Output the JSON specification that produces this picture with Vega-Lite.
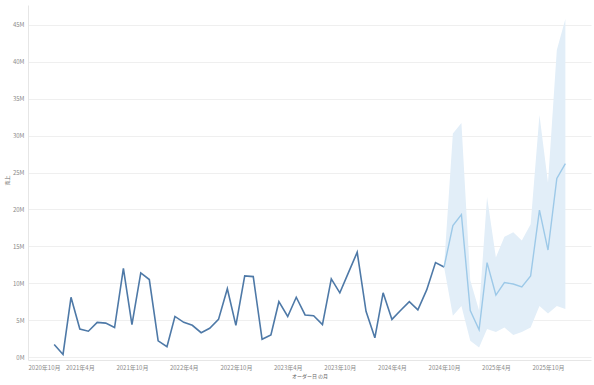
{
  "$schema": "https://vega.github.io/schema/vega-lite/v6.json",
  "width": 563,
  "height": 355,
  "autosize": {"type": "none"},
  "padding": {"left": 28, "top": 5, "right": 3, "bottom": 25},
  "background": "white",
  "config": {
    "view": {"stroke": null},
    "font": "Noto Sans CJK JP",
    "axis": {
      "labelFont": "Noto Sans CJK JP",
      "titleFont": "Noto Sans CJK JP",
      "labelColor": "#8a8a8a",
      "titleColor": "#666666",
      "labelFontSize": 6,
      "titleFontSize": 5,
      "titleFontWeight": "normal",
      "domainColor": "#e6e6e6",
      "gridColor": "#efefef",
      "ticks": false,
      "labelOverlap": false
    }
  },
  "data": {
    "values": [
      {"月": "2021-01-01", "種類": "実績", "売上": 1700000},
      {"月": "2021-02-01", "種類": "実績", "売上": 350000},
      {"月": "2021-03-01", "種類": "実績", "売上": 8100000},
      {"月": "2021-04-01", "種類": "実績", "売上": 3800000},
      {"月": "2021-05-01", "種類": "実績", "売上": 3500000},
      {"月": "2021-06-01", "種類": "実績", "売上": 4700000},
      {"月": "2021-07-01", "種類": "実績", "売上": 4600000},
      {"月": "2021-08-01", "種類": "実績", "売上": 4000000},
      {"月": "2021-09-01", "種類": "実績", "売上": 12000000},
      {"月": "2021-10-01", "種類": "実績", "売上": 4400000},
      {"月": "2021-11-01", "種類": "実績", "売上": 11400000},
      {"月": "2021-12-01", "種類": "実績", "売上": 10500000},
      {"月": "2022-01-01", "種類": "実績", "売上": 2200000},
      {"月": "2022-02-01", "種類": "実績", "売上": 1400000},
      {"月": "2022-03-01", "種類": "実績", "売上": 5500000},
      {"月": "2022-04-01", "種類": "実績", "売上": 4700000},
      {"月": "2022-05-01", "種類": "実績", "売上": 4300000},
      {"月": "2022-06-01", "種類": "実績", "売上": 3300000},
      {"月": "2022-07-01", "種類": "実績", "売上": 3900000},
      {"月": "2022-08-01", "種類": "実績", "売上": 5100000},
      {"月": "2022-09-01", "種類": "実績", "売上": 9250000},
      {"月": "2022-10-01", "種類": "実績", "売上": 4300000},
      {"月": "2022-11-01", "種類": "実績", "売上": 11000000},
      {"月": "2022-12-01", "種類": "実績", "売上": 10900000},
      {"月": "2023-01-01", "種類": "実績", "売上": 2400000},
      {"月": "2023-02-01", "種類": "実績", "売上": 3000000},
      {"月": "2023-03-01", "種類": "実績", "売上": 7500000},
      {"月": "2023-04-01", "種類": "実績", "売上": 5500000},
      {"月": "2023-05-01", "種類": "実績", "売上": 8100000},
      {"月": "2023-06-01", "種類": "実績", "売上": 5700000},
      {"月": "2023-07-01", "種類": "実績", "売上": 5600000},
      {"月": "2023-08-01", "種類": "実績", "売上": 4400000},
      {"月": "2023-09-01", "種類": "実績", "売上": 10600000},
      {"月": "2023-10-01", "種類": "実績", "売上": 8700000},
      {"月": "2023-11-01", "種類": "実績", "売上": 11500000},
      {"月": "2023-12-01", "種類": "実績", "売上": 14200000},
      {"月": "2024-01-01", "種類": "実績", "売上": 6200000},
      {"月": "2024-02-01", "種類": "実績", "売上": 2600000},
      {"月": "2024-03-01", "種類": "実績", "売上": 8700000},
      {"月": "2024-04-01", "種類": "実績", "売上": 5100000},
      {"月": "2024-05-01", "種類": "実績", "売上": 6300000},
      {"月": "2024-06-01", "種類": "実績", "売上": 7500000},
      {"月": "2024-07-01", "種類": "実績", "売上": 6400000},
      {"月": "2024-08-01", "種類": "実績", "売上": 9100000},
      {"月": "2024-09-01", "種類": "実績", "売上": 12800000},
      {"月": "2024-10-01", "種類": "実績", "売上": 12200000},
      {"月": "2024-10-01", "種類": "予測", "売上": 12200000, "下限": 12200000, "上限": 12200000},
      {"月": "2024-11-01", "種類": "予測", "売上": 17800000, "下限": 5600000, "上限": 30300000},
      {"月": "2024-12-01", "種類": "予測", "売上": 19300000, "下限": 6900000, "上限": 31700000},
      {"月": "2025-01-01", "種類": "予測", "売上": 6300000, "下限": 2200000, "上限": 10400000},
      {"月": "2025-02-01", "種類": "予測", "売上": 3700000, "下限": 1300000, "上限": 6300000},
      {"月": "2025-03-01", "種類": "予測", "売上": 12800000, "下限": 3800000, "上限": 21700000},
      {"月": "2025-04-01", "種類": "予測", "売上": 8400000, "下限": 3400000, "上限": 13500000},
      {"月": "2025-05-01", "種類": "予測", "売上": 10100000, "下限": 4000000, "上限": 16300000},
      {"月": "2025-06-01", "種類": "予測", "売上": 9900000, "下限": 3000000, "上限": 16900000},
      {"月": "2025-07-01", "種類": "予測", "売上": 9500000, "下限": 3400000, "上限": 15800000},
      {"月": "2025-08-01", "種類": "予測", "売上": 11000000, "下限": 4000000, "上限": 18000000},
      {"月": "2025-09-01", "種類": "予測", "売上": 19900000, "下限": 6900000, "上限": 32800000},
      {"月": "2025-10-01", "種類": "予測", "売上": 14500000, "下限": 5900000, "上限": 23600000},
      {"月": "2025-11-01", "種類": "予測", "売上": 24200000, "下限": 6900000, "上限": 41600000},
      {"月": "2025-12-01", "種類": "予測", "売上": 26200000, "下限": 6500000, "上限": 45800000}
    ]
  },
  "encoding": {
    "x": {
      "field": "月",
      "type": "temporal",
      "scale": {
        "type": "utc",
        "domain": [
          {"year": 2020, "month": 10, "date": 1, "utc": true},
          {"year": 2026, "month": 3, "date": 1, "utc": true}
        ],
        "nice": false
      },
      "axis": {
        "title": "オーダー日 の月",
        "grid": false,
        "labelFlush": true,
        "labelPadding": 4,
        "titlePadding": 3,
        "values": [
          {"year": 2020, "month": 10, "date": 1, "utc": true},
          {"year": 2021, "month": 4, "date": 1, "utc": true},
          {"year": 2021, "month": 10, "date": 1, "utc": true},
          {"year": 2022, "month": 4, "date": 1, "utc": true},
          {"year": 2022, "month": 10, "date": 1, "utc": true},
          {"year": 2023, "month": 4, "date": 1, "utc": true},
          {"year": 2023, "month": 10, "date": 1, "utc": true},
          {"year": 2024, "month": 4, "date": 1, "utc": true},
          {"year": 2024, "month": 10, "date": 1, "utc": true},
          {"year": 2025, "month": 4, "date": 1, "utc": true},
          {"year": 2025, "month": 10, "date": 1, "utc": true}
        ],
        "labelExpr": "utcFormat(datum.value, '%Y年%-m月')"
      }
    }
  },
  "layer": [
    {
      "transform": [{"filter": "datum['種類'] == '予測'"}],
      "mark": {"type": "area", "color": "#e2eef8", "opacity": 1},
      "encoding": {
        "y": {
          "field": "下限",
          "type": "quantitative",
          "scale": {"domain": [-400000, 47700000], "nice": false, "zero": false},
          "axis": {
            "title": "売上",
            "values": [0, 5000000, 10000000, 15000000, 20000000, 25000000, 30000000, 35000000, 40000000, 45000000],
            "labelExpr": "format(datum.value / 1000000, 'd') + 'M'",
            "labelPadding": 4,
            "labelOverlap": false,
            "titleX": -19,
            "titleY": 175,
            "grid": true
          }
        },
        "y2": {"field": "上限"}
      }
    },
    {
      "transform": [{"filter": "datum['種類'] == '実績'"}],
      "mark": {"type": "line", "color": "#4e79a7", "strokeWidth": 1.6},
      "encoding": {
        "y": {
          "field": "売上",
          "type": "quantitative",
          "scale": {"domain": [-400000, 47700000], "nice": false, "zero": false},
          "axis": {
            "title": "売上",
            "values": [0, 5000000, 10000000, 15000000, 20000000, 25000000, 30000000, 35000000, 40000000, 45000000],
            "labelExpr": "format(datum.value / 1000000, 'd') + 'M'",
            "labelPadding": 4,
            "labelOverlap": false,
            "titleX": -19,
            "titleY": 175,
            "grid": true
          }
        }
      }
    },
    {
      "transform": [{"filter": "datum['種類'] == '予測'"}],
      "mark": {"type": "line", "color": "#9dc9e8", "strokeWidth": 1.4},
      "encoding": {
        "y": {
          "field": "売上",
          "type": "quantitative",
          "scale": {"domain": [-400000, 47700000], "nice": false, "zero": false},
          "axis": {
            "title": "売上",
            "values": [0, 5000000, 10000000, 15000000, 20000000, 25000000, 30000000, 35000000, 40000000, 45000000],
            "labelExpr": "format(datum.value / 1000000, 'd') + 'M'",
            "labelPadding": 4,
            "labelOverlap": false,
            "titleX": -19,
            "titleY": 175,
            "grid": true
          }
        }
      }
    }
  ]
}
